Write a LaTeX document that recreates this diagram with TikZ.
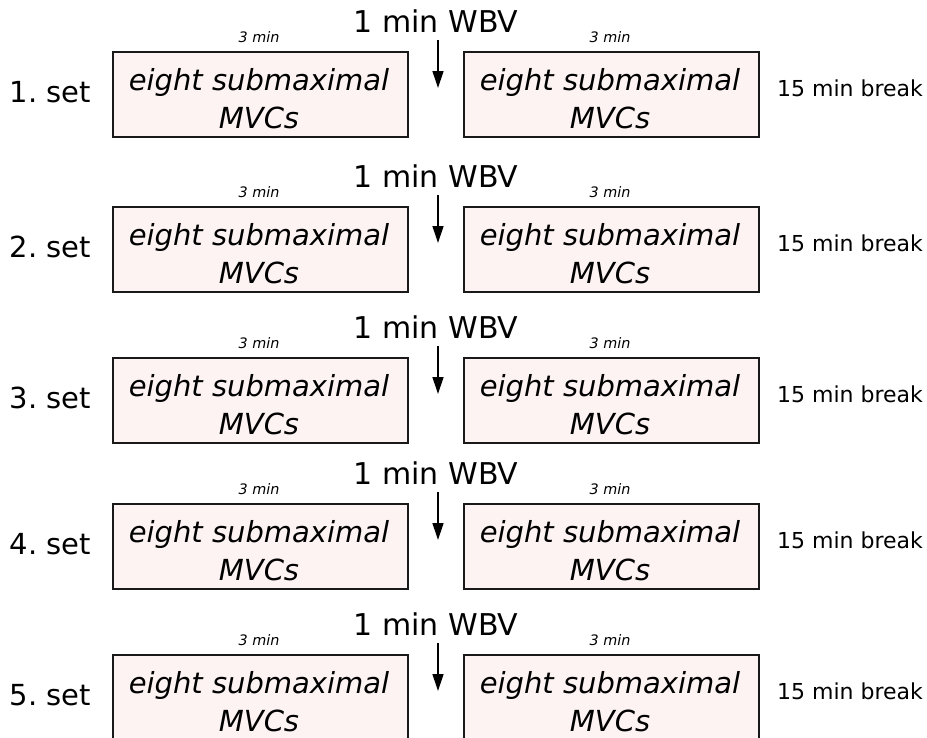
\documentclass[tikz,border=0pt]{standalone}
\usepackage{fontspec}
\setmainfont{DejaVu Sans}
\usetikzlibrary{arrows.meta}
\definecolor{boxfill}{RGB}{253,243,242}
\definecolor{boxline}{RGB}{25,25,25}
\tikzset{
  mvcbox/.style={draw=boxline, line width=1.7pt, fill=boxfill,
    minimum width=295pt, minimum height=85pt, inner sep=0pt},
  mvctext/.style={font=\fontsize{29}{30}\selectfont\itshape, inner sep=0pt, anchor=base},
  setlabel/.style={font=\fontsize{29}{30}\selectfont, inner sep=0pt, anchor=base east},
  durlabel/.style={font=\fontsize{14.4}{15}\selectfont\itshape, inner sep=0pt, anchor=base},
  wbvlabel/.style={font=\fontsize{30}{32}\selectfont, inner sep=0pt, anchor=base},
  breaklabel/.style={font=\fontsize{22}{24}\selectfont, inner sep=0pt, anchor=base west},
  wbvarrow/.style={draw=black, line width=1.3pt, -{Triangle[width=11pt,length=17pt]}},
}
\begin{document}
\begin{tikzpicture}[x=1pt,y=-1pt]
\useasboundingbox (0,0) rectangle (927,737);
% one row per set: two MVC blocks separated by 1 min of whole-body vibration
\foreach \r/\T in {1/52,2/207,3/358,4/504,5/655}{
  \node[mvcbox] (L\r) at (260.5,\T+42.5) {};
  \node[mvcbox] (R\r) at (611.5,\T+42.5) {};
  \node[mvctext] (La\r) at (259,\T+38) {eight submaximal};
  \node[mvctext] (Lb\r) at (259,\T+76) {MVCs};
  \node[mvctext] (Ra\r) at (610,\T+38) {eight submaximal};
  \node[mvctext] (Rb\r) at (610,\T+76) {MVCs};
  \node[setlabel] (S\r) at (91,\T+50) {\r.\ set};
  \node[durlabel] (DL\r) at (259,\T-10) {3 min};
  \node[durlabel] (DR\r) at (610,\T-10) {3 min};
  \node[wbvlabel] (W\r) at (436,\T-20) {1 min WBV};
  \node[breaklabel] (B\r) at (777,\T+44) {15 min break};
  \coordinate (A\r) at (438,\T+36);
  \draw[wbvarrow] ([xshift=2pt,yshift=-8pt]W\r.south) -- (A\r);
}
\end{tikzpicture}
\end{document}
